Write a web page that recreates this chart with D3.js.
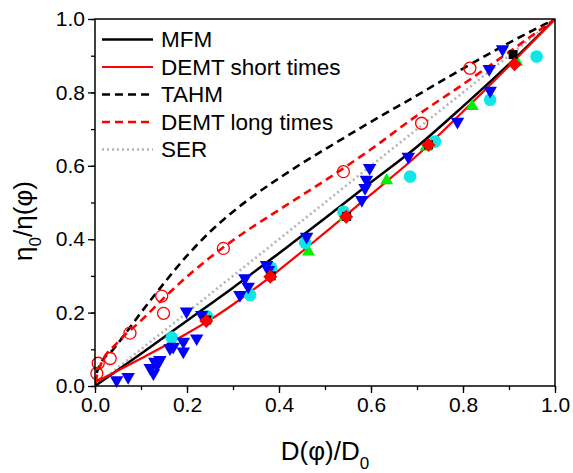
<!DOCTYPE html>
<html>
<head>
<meta charset="utf-8">
<script src="https://cdn.jsdelivr.net/npm/d3@7"></script>
<style>
  body { margin: 0; background: #fff; }
  text { font-family: "Liberation Sans", Arial, sans-serif; }
</style>
</head>
<body>
<svg id="chart" width="573" height="473"></svg>
<script>
// ---------- data ----------
const xTicks = [0, 0.2, 0.4, 0.6, 0.8, 1.0];
const yTicks = [0, 0.2, 0.4, 0.6, 0.8, 1.0];
const tickLabels = ["0.0", "0.2", "0.4", "0.6", "0.8", "1.0"];

const legendNames = ["MFM", "DEMT short times", "TAHM", "DEMT long times", "SER"];

// model curves [D/D0, eta0/eta]
const mfmCurve = [[0,0],[0.1,0.088],[0.2,0.178],[0.3,0.268],[0.4,0.362],[0.5,0.457],[0.6,0.555],[0.7,0.652],[0.8,0.762],[0.9,0.877],[1,1]];
const demtShortCurve = [[0,0.01],[0.1,0.075],[0.2,0.143],[0.25,0.18],[0.3,0.222],[0.4,0.316],[0.5,0.418],[0.6,0.522],[0.7,0.628],[0.8,0.748],[0.9,0.872],[1,1]];
const tahmCurve = [[0,0],[0.003,0.03],[0.01,0.055],[0.04,0.1],[0.1,0.2],[0.15,0.28],[0.2,0.355],[0.25,0.42],[0.3,0.475],[0.35,0.523],[0.4,0.566],[0.45,0.607],[0.5,0.645],[0.6,0.72],[0.7,0.792],[0.8,0.865],[0.9,0.935],[1,1]];
const demtLongCurve = [[0,0.01],[0.01,0.05],[0.05,0.12],[0.1,0.178],[0.15,0.24],[0.2,0.298],[0.25,0.35],[0.3,0.397],[0.4,0.48],[0.5,0.56],[0.6,0.645],[0.7,0.737],[0.8,0.822],[0.9,0.91],[1,1]];
const serCurve = [[0,0],[1,1]];

// experimental points [D/D0, eta0/eta]
const blueDown = [[0.047,0.016],[0.072,0.025],[0.12,0.049],[0.127,0.035],[0.13,0.066],[0.135,0.058],[0.141,0.071],[0.163,0.103],[0.17,0.107],[0.192,0.094],[0.192,0.121],[0.221,0.13],[0.199,0.203],[0.232,0.194],[0.315,0.248],[0.326,0.294],[0.333,0.271],[0.373,0.33],[0.377,0.316],[0.46,0.407],[0.58,0.507],[0.587,0.54],[0.59,0.562],[0.597,0.594],[0.681,0.625],[0.788,0.72],[0.859,0.805],[0.857,0.864],[0.886,0.918]];
const cyanCircle = [[0.167,0.132],[0.243,0.19],[0.337,0.248],[0.383,0.322],[0.457,0.39],[0.54,0.475],[0.685,0.571],[0.739,0.666],[0.859,0.78],[0.96,0.898]];
const greenUp = [[0.464,0.366],[0.543,0.46],[0.634,0.56],[0.72,0.652],[0.82,0.762],[0.917,0.883]];
const blackSquare = [[0.243,0.18],[0.383,0.3],[0.547,0.462],[0.725,0.657],[0.909,0.903]];
const redDiamond = [[0.242,0.177],[0.381,0.298],[0.546,0.461],[0.725,0.657],[0.912,0.877]];
const redOpen = [[0.004,0.034],[0.007,0.062],[0.033,0.075],[0.076,0.144],[0.145,0.245],[0.149,0.198],[0.279,0.375],[0.54,0.584],[0.71,0.716],[0.815,0.866]];

// ---------- layout ----------
const svg = d3.select("#chart");
const L = 95, R = 555, T = 19, B = 386;
const x = d3.scaleLinear().domain([0, 1]).range([L, R]);
const y = d3.scaleLinear().domain([0, 1]).range([B, T]);

svg.append("defs").append("clipPath").attr("id", "clip")
  .append("rect").attr("x", L).attr("y", T).attr("width", R - L).attr("height", B - T);

// axes
const minor = d3.range(0, 1.0001, 0.1);
const xAxis = d3.axisBottom(x).tickValues(xTicks).tickSize(7).tickPadding(4)
  .tickFormat((d, i) => tickLabels[i]);
const yAxis = d3.axisLeft(y).tickValues(yTicks).tickSize(7).tickPadding(3)
  .tickFormat((d, i) => tickLabels[i]);

const gx = svg.append("g").attr("transform", `translate(0,${B})`).call(xAxis);
const gy = svg.append("g").attr("transform", `translate(${L},0)`).call(yAxis);
svg.append("g").attr("transform", `translate(0,${B})`)
  .call(d3.axisBottom(x).tickValues(minor).tickSize(4).tickFormat(""));
svg.append("g").attr("transform", `translate(${L},0)`)
  .call(d3.axisLeft(y).tickValues(minor).tickSize(4).tickFormat(""));
svg.selectAll(".domain").remove();
svg.selectAll(".tick line").attr("stroke", "#000").attr("stroke-width", 1.3);
[gx, gy].forEach(g => g.selectAll("text")
  .attr("font-size", 21).attr("fill", "#000")
  .attr("font-family", "'Liberation Sans', Arial, sans-serif"));

// curves
const line = d3.line().x(d => x(d[0])).y(d => y(d[1])).curve(d3.curveMonotoneX);
const curves = svg.append("g").attr("clip-path", "url(#clip)");
const styles = [
  { data: mfmCurve, color: "#000", w: 2.5, dash: null },
  { data: demtShortCurve, color: "#ff0000", w: 2.2, dash: null },
  { data: tahmCurve, color: "#000", w: 2.6, dash: "8,5" },
  { data: demtLongCurve, color: "#ff0000", w: 2.6, dash: "8,5" },
  { data: serCurve, color: "#b4b4b4", w: 2.6, dash: "2,3" }
];
[styles[4], styles[2], styles[3], styles[0], styles[1]].forEach(s => {
  curves.append("path").datum(s.data).attr("d", line)
    .attr("fill", "none").attr("stroke", s.color).attr("stroke-width", s.w)
    .attr("stroke-dasharray", s.dash);
});

// markers
const pts = svg.append("g");
function tri(size, down) {
  const h = size * 0.87, a = down ? 1 : -1;
  return `M${-size/2},${-a*h/3}L${size/2},${-a*h/3}L0,${a*2*h/3}Z`;
}
pts.selectAll(".g").data(greenUp).join("path")
  .attr("d", tri(13, false)).attr("fill", "#00f000")
  .attr("transform", d => `translate(${x(d[0])},${y(d[1])})`);
pts.selectAll(".c").data(cyanCircle).join("circle")
  .attr("cx", d => x(d[0])).attr("cy", d => y(d[1])).attr("r", 6.3).attr("fill", "#10e6e6");
pts.selectAll(".b").data(blueDown).join("path")
  .attr("d", tri(13.5, true)).attr("fill", "#0000ff")
  .attr("transform", d => `translate(${x(d[0])},${y(d[1])})`);
pts.selectAll(".s").data(blackSquare).join("rect")
  .attr("x", d => x(d[0]) - 4.5).attr("y", d => y(d[1]) - 4.5)
  .attr("width", 9).attr("height", 9).attr("fill", "#000");
pts.selectAll(".d").data(redDiamond).join("path")
  .attr("d", "M0,-7L7,0L0,7L-7,0Z").attr("fill", "#ff0000")
  .attr("transform", d => `translate(${x(d[0])},${y(d[1])})`);
pts.selectAll(".o").data(redOpen).join("circle")
  .attr("cx", d => x(d[0])).attr("cy", d => y(d[1])).attr("r", 6)
  .attr("fill", "none").attr("stroke", "#ff0000").attr("stroke-width", 1.3);

// frame
svg.append("rect").attr("x", L).attr("y", T).attr("width", R - L).attr("height", B - T)
  .attr("fill", "none").attr("stroke", "#000").attr("stroke-width", 1.5);

// legend
const legY = [39.5, 67, 94.5, 122, 149.5];
const lg = svg.append("g");
legendNames.forEach((name, i) => {
  const s = styles[i];
  lg.append("line").attr("x1", 102).attr("x2", 153).attr("y1", legY[i]).attr("y2", legY[i])
    .attr("stroke", s.color).attr("stroke-width", s.w).attr("stroke-dasharray", s.dash);
  lg.append("text").attr("x", 161).attr("y", legY[i] + 7.8).attr("font-size", 22.5)
    .attr("fill", "#000").text(name);
});

// axis titles
const xt = svg.append("text").attr("x", 325).attr("y", 460).attr("text-anchor", "middle")
  .attr("font-size", 26).attr("fill", "#000");
xt.append("tspan").text("D(φ)/D");
xt.append("tspan").attr("font-size", 17).attr("dy", 9).text("0");

const yt = svg.append("text").attr("transform", "translate(32,221) rotate(-90)")
  .attr("text-anchor", "middle").attr("font-size", 26).attr("fill", "#000");
yt.append("tspan").text("η");
yt.append("tspan").attr("font-size", 17).attr("dy", 9).text("0");
yt.append("tspan").attr("dy", -9).text("/η(φ)");
</script>
</body>
</html>
